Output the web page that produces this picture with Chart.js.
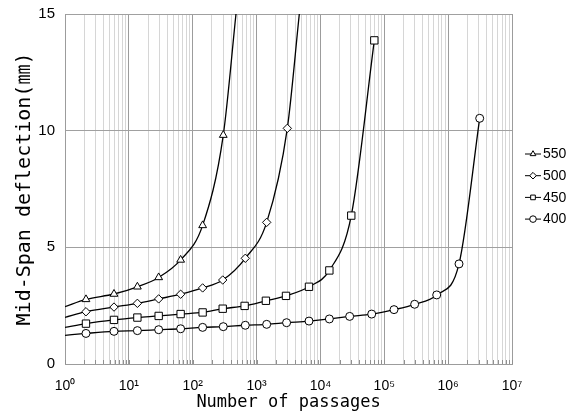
<!DOCTYPE html>
<html>
<head>
<meta charset="utf-8">
<script src="https://cdn.jsdelivr.net/npm/chart.js@4/dist/chart.umd.min.js"></script>
<style>
  html, body { margin: 0; padding: 0; background: #fff; }
  #wrap { width: 572px; height: 414px; }
</style>
</head>
<body>
<div id="wrap"><canvas id="deflectionChart"></canvas></div>
<script>
// marker points (x = passages, y = mm)
const passes550 = [2.13, 5.85, 13.6, 29.3, 64.7, 143, 301];
const defl550 = [2.77, 3.00, 3.31, 3.71, 4.46, 5.94, 9.81];
const passes500 = [2.13, 5.85, 13.6, 29.3, 64.7, 143, 295, 666, 1440, 3030];
const defl500 = [2.24, 2.44, 2.60, 2.79, 2.99, 3.26, 3.60, 4.53, 6.07, 10.1];
const passes450 = [2.13, 5.85, 13.6, 29.3, 64.7, 143, 295, 650, 1400, 2890, 6620, 13800, 30400, 69800];
const defl450 = [1.73, 1.89, 1.99, 2.06, 2.14, 2.21, 2.37, 2.49, 2.71, 2.92, 3.31, 4.01, 6.36, 13.87];
const passes400 = [2.13, 5.85, 13.6, 29.3, 64.7, 143, 301, 666, 1440, 2950, 6620, 13800, 28700, 63500,
  142000, 299000, 662000, 1480000, 3120000];
const defl400 = [1.31, 1.40, 1.43, 1.47, 1.51, 1.57, 1.60, 1.66, 1.70, 1.77, 1.84, 1.93, 2.04, 2.14,
  2.33, 2.56, 2.96, 4.29, 10.53];

// where the fitted curves begin (at 1 passage) and leave the top of the plot
const curveStart = [2.46, 2.0, 1.57, 1.23];
const curveEnd550 = [476, 15];
const curveEnd500 = [4670, 15];

const seriesLabels = ['550', '500', '450', '400'];
const seriesStyles = ['triangle', 'rectRot', 'rect', 'circle'];
const seriesRadius = [4.5, 4.2, 5.2, 4];

const sup = ['\u2070', '\u00B9', '\u00B2', '\u00B3', '\u2074', '\u2075', '\u2076', '\u2077'];

function buildSeries(i, xs, ys, end) {
  const pts = [{ x: 1, y: curveStart[i] }];
  const radii = [0];
  xs.forEach((x, k) => { pts.push({ x: x, y: ys[k] }); radii.push(seriesRadius[i]); });
  if (end) { pts.push({ x: end[0], y: end[1] }); radii.push(0); }
  return {
    label: seriesLabels[i],
    data: pts,
    borderColor: '#000',
    borderWidth: 1.3,
    pointStyle: seriesStyles[i],
    pointRadius: radii,
    pointBackgroundColor: '#fff',
    pointBorderColor: '#000',
    pointBorderWidth: 1,
    cubicInterpolationMode: 'monotone',
    fill: false,
  };
}

// short inside tick marks along the bottom axis, like the original
const innerTicks = {
  id: 'innerTicks',
  afterDatasetsDraw(chart) {
    const xs = chart.scales.x;
    const ctx = chart.ctx;
    const bottom = chart.chartArea.bottom;
    ctx.save();
    ctx.strokeStyle = '#909090';
    ctx.lineWidth = 1;
    xs.ticks.forEach((t) => {
      const px = Math.round(xs.getPixelForValue(t.value)) + 0.5;
      ctx.beginPath();
      ctx.moveTo(px, bottom);
      ctx.lineTo(px, bottom - 4);
      ctx.stroke();
    });
    ctx.restore();
  }
};

const legendPlugin = {
  id: 'sideLegend',
  afterDraw(chart) {
    const ctx = chart.ctx;
    ctx.save();
    chart.data.datasets.forEach((ds, i) => {
      const y = 154 + i * 21.7;
      ctx.strokeStyle = '#000';
      ctx.lineWidth = 1;
      ctx.beginPath();
      ctx.moveTo(525, y);
      ctx.lineTo(541, y);
      ctx.stroke();
      ctx.fillStyle = '#fff';
      Chart.helpers.drawPoint(ctx, { pointStyle: ds.pointStyle, radius: 3.3, borderWidth: 1, rotation: 0 }, 533, y);
      ctx.fillStyle = '#000';
      ctx.font = '14px "Liberation Sans", Arial, sans-serif';
      ctx.textAlign = 'left';
      ctx.textBaseline = 'middle';
      ctx.fillText(ds.label, 543, y + 0.5);
    });
    ctx.restore();
  }
};

new Chart(document.getElementById('deflectionChart'), {
  type: 'line',
  data: {
    datasets: [
      buildSeries(0, passes550, defl550, curveEnd550),
      buildSeries(1, passes500, defl500, curveEnd500),
      buildSeries(2, passes450, defl450, null),
      buildSeries(3, passes400, defl400, null),
    ],
  },
  options: {
    responsive: true,
    maintainAspectRatio: false,
    animation: false,
    layout: { padding: { top: 14, right: 60, bottom: 0, left: 0 } },
    plugins: {
      legend: { display: false },
      tooltip: { enabled: false },
    },
    scales: {
      x: {
        type: 'logarithmic',
        min: 1,
        max: 1e7,
        afterBuildTicks(scale) {
          const t = [];
          for (let e = 0; e < 7; e++) {
            for (let m = 1; m < 10; m++) t.push({ value: m * Math.pow(10, e), major: m === 1 });
          }
          t.push({ value: 1e7, major: true });
          scale.ticks = t;
        },
        afterFit(scale) { scale.height = 50; scale.paddingLeft = 0; scale.paddingRight = 0; },
        grid: {
          color: (c) => (c.tick && c.tick.major ? '#9c9c9c' : '#d6d6d6'),
          lineWidth: 1,
          drawTicks: false,
        },
        border: { color: '#9c9c9c' },
        ticks: {
          autoSkip: false,
          maxRotation: 0,
          padding: 14,
          color: '#000',
          font: { family: '"Liberation Sans", Arial, sans-serif', size: 14 },
          callback(value) {
            const e = Math.log10(value);
            const r = Math.round(e);
            return Math.abs(e - r) < 1e-9 ? '10' + sup[r] : '';
          },
        },
        title: {
          display: true,
          text: 'Number of passages',
          color: '#000',
          font: { family: '"DejaVu Sans Mono", monospace', size: 17 },
          padding: { top: 0, bottom: 1 },
        },
      },
      y: {
        min: 0,
        max: 15,
        afterFit(scale) { scale.width = 65; scale.paddingTop = 0; scale.paddingBottom = 0; },
        grid: { color: '#a0a0a0', drawTicks: false },
        border: { color: '#9c9c9c' },
        ticks: {
          stepSize: 5,
          padding: 10,
          color: '#000',
          font: { family: '"Liberation Sans", Arial, sans-serif', size: 15 },
        },
        title: {
          display: true,
          text: 'Mid-Span deflection(\u339C)',
          color: '#000',
          font: { family: '"DejaVu Sans Mono", "Noto Sans CJK JP", monospace', size: 20 },
          padding: { top: 13, bottom: 0 },
        },
      },
    },
  },
  plugins: [innerTicks, legendPlugin],
});
</script>
</body>
</html>
